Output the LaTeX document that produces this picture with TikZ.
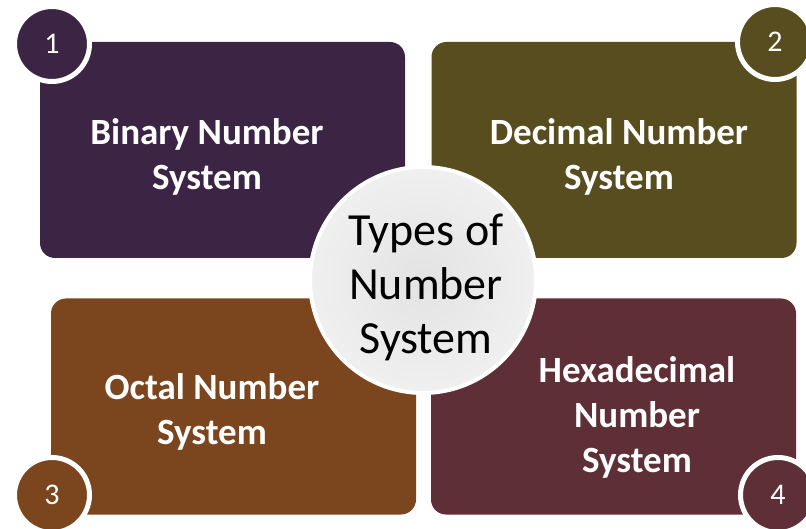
\documentclass[tikz,border=0pt]{standalone}
\usepackage{fontspec}
\setmainfont{Carlito}
\definecolor{binarycol}{HTML}{3C2444}
\definecolor{decimalcol}{HTML}{574D1F}
\definecolor{octalcol}{HTML}{7B451E}
\definecolor{hexcol}{HTML}{5E2F37}
\definecolor{hubcol}{HTML}{D9D9D9}
\tikzset{
  sysbox/.style={rectangle,rounded corners=15pt,minimum width=365pt,
    minimum height=216pt,inner sep=0pt},
  systext/.style={text=white,align=center,
    font=\fontsize{37}{45}\selectfont\bfseries},
  numdot/.style={circle,draw=white,line width=5pt,minimum size=75pt,
    inner sep=0pt,text=white,font=\fontsize{30}{36}\selectfont}
}
\begin{document}
\begin{tikzpicture}[x=1pt,y=-1pt]
  \useasboundingbox (0,0) rectangle (806,529);
  \node[sysbox,fill=binarycol](binbox) at (222.5,150) {};
  \node[sysbox,fill=decimalcol](decbox) at (614,150) {};
  \node[sysbox,fill=octalcol](octbox) at (233.5,406.5) {};
  \node[sysbox,fill=hexcol](hexbox) at (613.5,406.5) {};
  \node[systext](bintxt) at (207,157) {Binary Number\\System};
  \node[systext](dectxt) at (619,157) {Decimal Number\\System};
  \node[systext](octtxt) at (212,412) {Octal Number\\System};
  \node[systext](hextxt) at (637,417) {Hexadecimal\\Number\\System};
  \node[numdot,fill=binarycol](binnum) at (52,44) {1};
  \node[numdot,fill=decimalcol](decnum) at (775,42) {2};
  \node[numdot,fill=octalcol](octnum) at (52,495) {3};
  \node[numdot,fill=hexcol](hexnum) at (778,495) {4};
  \node[circle,inner color=gray!22,outer color=gray!12,draw=white,
    line width=4pt,minimum size=226pt,inner sep=0pt](hub) at (423,280) {};
  \node[align=center,font=\fontsize{46}{54}\selectfont](hubtxt)
    at (426,287) {Types of\\Number\\System};
\end{tikzpicture}
\end{document}
